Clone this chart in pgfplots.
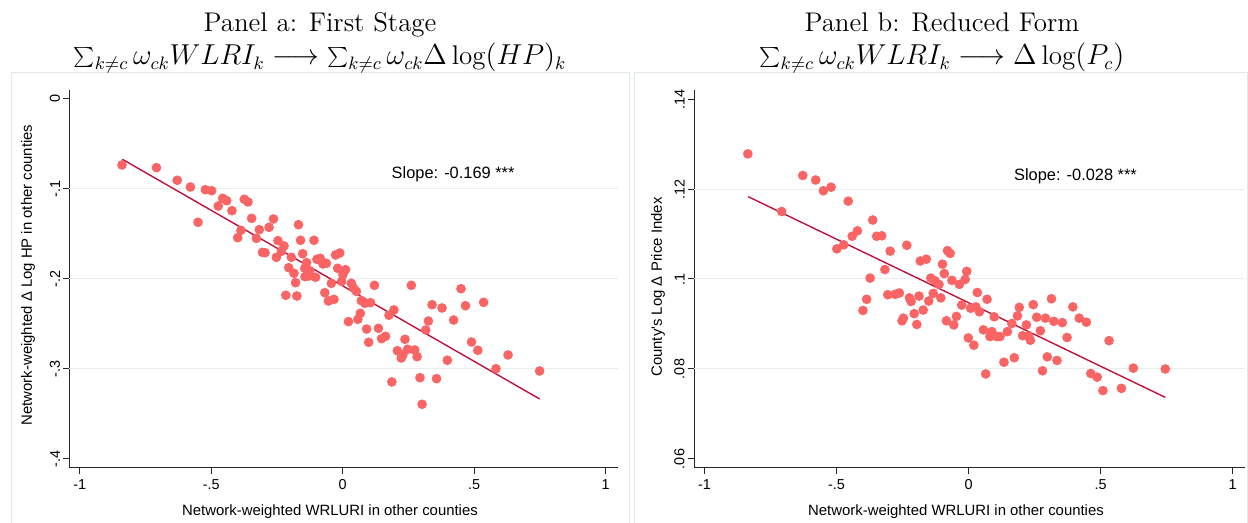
\documentclass[border=0pt]{standalone}
\usepackage{fontspec}
\usepackage{pgfplots}
\usepackage{pgfplotstable}
\pgfplotsset{compat=1.18}
\newfontfamily\arial{Liberation Sans}
\definecolor{dotred}{RGB}{250,100,100}
\definecolor{fitred}{RGB}{190,18,60}
\definecolor{gridc}{RGB}{230,238,240}
\definecolor{framec}{RGB}{226,234,237}

\pgfplotstableread{
x y
-0.839 -0.0733
-0.708 -0.0763
-0.629 -0.0903
-0.579 -0.0978
-0.522 -0.1008
-0.498 -0.1019
-0.456 -0.1103
-0.441 -0.1130
-0.473 -0.1189
-0.421 -0.1241
-0.550 -0.1370
-0.374 -0.1114
-0.360 -0.1144
-0.346 -0.1326
-0.263 -0.1333
-0.168 -0.1397
-0.317 -0.1452
-0.280 -0.1426
-0.387 -0.1459
-0.399 -0.1541
-0.328 -0.1548
-0.246 -0.1574
-0.223 -0.1633
-0.160 -0.1570
-0.109 -0.1570
-0.305 -0.1704
-0.295 -0.1708
-0.233 -0.1692
-0.252 -0.1759
-0.195 -0.1759
-0.152 -0.1719
-0.205 -0.1874
-0.185 -0.1937
-0.144 -0.1881
-0.137 -0.1819
-0.125 -0.1908
-0.098 -0.1781
-0.085 -0.1770
-0.075 -0.1833
-0.062 -0.1826
-0.027 -0.1733
-0.011 -0.1711
-0.019 -0.1881
0.011 -0.1897
0.001 -0.1952
-0.143 -0.1974
-0.129 -0.1967
-0.103 -0.1981
-0.179 -0.2041
-0.043 -0.2048
-0.004 -0.2026
0.033 -0.2048
0.042 -0.2103
-0.068 -0.2152
-0.216 -0.2181
-0.174 -0.2189
-0.033 -0.2226
-0.054 -0.2244
0.022 -0.2474
0.052 -0.2137
0.121 -0.2070
0.261 -0.2070
0.071 -0.2241
0.084 -0.2270
0.106 -0.2263
0.195 -0.2344
0.176 -0.2403
0.067 -0.2381
0.058 -0.2448
0.091 -0.2556
0.136 -0.2548
0.099 -0.2703
0.148 -0.2663
0.163 -0.2637
0.237 -0.2670
0.208 -0.2797
0.247 -0.2781
0.274 -0.2789
0.283 -0.2863
0.223 -0.2878
0.229 -0.2844
0.316 -0.2567
0.326 -0.2467
0.340 -0.2286
0.378 -0.2322
0.422 -0.2456
0.450 -0.2108
0.467 -0.2297
0.536 -0.2259
0.490 -0.2700
0.514 -0.2792
0.398 -0.2903
0.629 -0.2844
0.583 -0.2997
0.749 -0.3022
0.294 -0.3097
0.357 -0.3108
0.187 -0.3144
0.302 -0.3392
}\dataA

\pgfplotstableread{
x y
-0.836 0.1278
-0.628 0.1230
-0.579 0.1220
-0.550 0.1196
-0.521 0.1204
-0.456 0.1173
-0.708 0.1150
-0.363 0.1131
-0.421 0.1107
-0.441 0.1095
-0.348 0.1095
-0.329 0.1096
-0.499 0.1067
-0.473 0.1076
-0.297 0.1062
-0.234 0.1075
-0.183 0.1040
-0.160 0.1044
-0.080 0.1063
-0.070 0.1057
-0.317 0.1021
-0.099 0.1033
-0.092 0.1012
-0.007 0.1017
-0.373 0.1002
-0.143 0.1002
-0.127 0.0996
-0.112 0.0988
-0.063 0.0997
-0.035 0.0988
-0.013 0.0999
-0.134 0.0968
-0.105 0.0958
0.033 0.0970
-0.386 0.0955
-0.400 0.0930
-0.306 0.0965
-0.278 0.0966
-0.262 0.0969
-0.224 0.0958
-0.218 0.0950
-0.188 0.0962
-0.151 0.0951
-0.172 0.0931
-0.206 0.0923
-0.247 0.0913
-0.252 0.0907
-0.196 0.0899
-0.084 0.0907
-0.056 0.0898
-0.046 0.0917
-0.026 0.0942
0.008 0.0935
0.028 0.0938
0.041 0.0927
0.070 0.0955
0.097 0.0916
0.056 0.0887
0.088 0.0883
0.081 0.0872
0.107 0.0872
0.119 0.0872
-0.001 0.0869
0.020 0.0853
0.147 0.0883
0.164 0.0901
0.185 0.0918
0.192 0.0937
0.219 0.0898
0.245 0.0943
0.205 0.0874
0.227 0.0873
0.234 0.0864
0.258 0.0915
0.272 0.0885
0.291 0.0913
0.314 0.0956
0.323 0.0906
0.355 0.0903
0.373 0.0870
0.395 0.0938
0.419 0.0913
0.446 0.0904
0.532 0.0863
0.298 0.0827
0.335 0.0819
0.173 0.0825
0.134 0.0815
0.065 0.0789
0.280 0.0796
0.463 0.0790
0.487 0.0782
0.509 0.0752
0.579 0.0757
0.624 0.0802
0.745 0.0800
}\dataB

\pgfplotsset{
  stata/.style={
    scale only axis,
    height=189pt,
    enlargelimits=false,
    axis x line=bottom, axis y line=left,
    axis line style={-, black!85, line width=0.5pt},
    tick align=outside,
    major tick length=3pt,
    tick style={black!85, line width=0.5pt},
    xtick={-1,-0.5,0,0.5,1},
    xticklabels={-1,-.5,0,.5,1},
    ticklabel style={font=\arial\fontsize{7.2}{8}\selectfont},
    /pgf/number format/assume math mode=true,
    yticklabel style={rotate=90, anchor=south, inner sep=1.5pt},
    xticklabel style={inner sep=2.5pt},
    extra y tick style={grid=major, major tick length=0pt},
    major grid style={gridc, line width=0.5pt},
    clip=false,
  }
}

\begin{document}
\begin{tikzpicture}
\useasboundingbox (0,0) rectangle (624pt,261.5pt);
% panel frames
\draw[framec, line width=0.5pt] (5.5pt,0pt) -- (5.5pt,225pt) -- (314.5pt,225pt) -- (314.5pt,0pt);
\draw[framec, line width=0.5pt] (317pt,0pt) -- (317pt,225pt) -- (623.5pt,225pt) -- (623.5pt,0pt);

% titles
\node[anchor=base, inner sep=0pt, font=\fontsize{13.5}{16}\selectfont] at (160pt,245.5pt) {Panel a: First Stage};
\node[anchor=base, inner sep=0pt, font=\fontsize{13.5}{16}\selectfont] at (160pt,229pt) {$\sum_{k\neq c}\omega_{ck}WLRI_k \longrightarrow \sum_{k\neq c}\omega_{ck}\Delta\log(HP)_k$};
\node[anchor=base, inner sep=0pt, font=\fontsize{13.5}{16}\selectfont] at (471pt,245.5pt) {Panel b: Reduced Form};
\node[anchor=base, inner sep=0pt, font=\fontsize{13.5}{16}\selectfont] at (471pt,229pt) {$\sum_{k\neq c}\omega_{ck}WLRI_k \longrightarrow \Delta\log(P_c)$};

% axis titles
\node[rotate=90, font=\arial\fontsize{7.45}{9}\selectfont] at (14pt,124pt) {Network-weighted Δ Log HP in other counties};
\node[rotate=90, font=\arial\fontsize{7.45}{9}\selectfont] at (329pt,118pt) {County's Log Δ Price Index};
\node[anchor=base, font=\arial\fontsize{7.45}{9}\selectfont] at (165pt,3.5pt) {Network-weighted WRLURI in other counties};
\node[anchor=base, font=\arial\fontsize{7.45}{9}\selectfont] at (478pt,3.5pt) {Network-weighted WRLURI in other counties};

\begin{axis}[stata, at={(34.7pt,27.5pt)}, anchor=south west, width=274.3pt,
  xmin=-1.039, xmax=1.047, ymin=-0.41, ymax=0.01,
  ytick={0,-0.1,-0.2,-0.3,-0.4}, yticklabels={0,-.1,-.2,-.3,-.4},
  extra y ticks={-0.1,-0.2,-0.3}, extra y tick labels={}]
\addplot[only marks, mark=*, mark size=2.2pt, mark options={draw=dotred, fill=dotred}] table {\dataA};
\addplot[fitred, line width=0.7pt] coordinates {(-0.8376,-0.0670) (0.749,-0.3333)};
\node[font=\arial\fontsize{8.2}{10}\selectfont] at (axis cs:0.42,-0.0839) {Slope: -0.169 ***};
\end{axis}

\begin{axis}[stata, at={(347pt,27.5pt)}, anchor=south west, width=275.5pt,
  xmin=-1.040, xmax=1.047, ymin=0.058, ymax=0.142,
  ytick={0.06,0.08,0.1,0.12,0.14}, yticklabels={.06,.08,.1,.12,.14},
  extra y ticks={0.08,0.1,0.12}, extra y tick labels={}]
\addplot[only marks, mark=*, mark size=2.2pt, mark options={draw=dotred, fill=dotred}] table {\dataB};
\addplot[fitred, line width=0.7pt] coordinates {(-0.835,0.1183) (0.745,0.0737)};
\node[font=\arial\fontsize{8.2}{10}\selectfont] at (axis cs:0.405,0.1229) {Slope: -0.028 ***};
\end{axis}
\end{tikzpicture}
\end{document}
